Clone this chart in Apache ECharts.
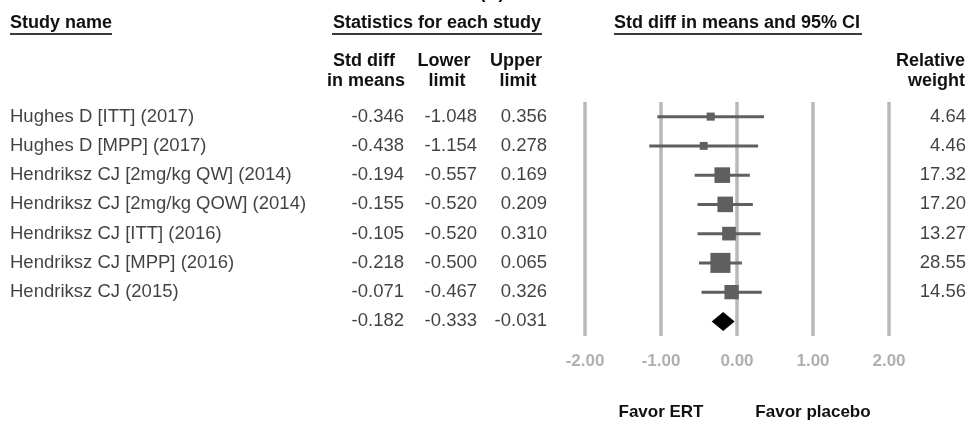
<!DOCTYPE html>
<html>
<head>
    <meta charset="UTF-8">
    <title>Forest plot</title>
    <script src="https://cdn.jsdelivr.net/npm/echarts@6/dist/echarts.min.js"></script>
    <style>
        body { margin: 0; background: #fff; }
        #forest { width: 975px; height: 421px; }
    </style>
</head>
<body>
    <div id="forest"></div>

    <script>
        var studies = [
            'Hughes D [ITT] (2017)',
            'Hughes D [MPP] (2017)',
            'Hendriksz CJ [2mg/kg QW] (2014)',
            'Hendriksz CJ [2mg/kg QOW] (2014)',
            'Hendriksz CJ [ITT] (2016)',
            'Hendriksz CJ [MPP] (2016)',
            'Hendriksz CJ (2015)'
        ];
        var stdDiff = [-0.346, -0.438, -0.194, -0.155, -0.105, -0.218, -0.071];
        var lowerLimit = [-1.048, -1.154, -0.557, -0.520, -0.520, -0.500, -0.467];
        var upperLimit = [0.356, 0.278, 0.169, 0.209, 0.310, 0.065, 0.326];
        var relWeight = [4.64, 4.46, 17.32, 17.20, 13.27, 28.55, 14.56];
        var pooled = [-0.182, -0.333, -0.031];   // effect, lower, upper
        var axisTicks = [-2, -1, 0, 1, 2];

        var font = "'Liberation Sans', Arial, sans-serif";
        var nRows = studies.length + 1;
        var gridTop = 102, gridHeight = 234;

        var chart = echarts.init(document.getElementById('forest'), null, {renderer: 'canvas'});

        // rows of the forest plot: [effect, lower, upper, weight, row]
        var forestRows = stdDiff.map(function (d, i) {
            return [d, lowerLimit[i], upperLimit[i], relWeight[i], i];
        });

        // text columns: [x position, row, text]
        function column(x, texts) {
            return texts.map(function (t, i) { return [x, i, t]; });
        }
        var nameCol = column(10, studies);
        var diffCol = column(404, stdDiff.concat([pooled[0]]).map(function (v) { return v.toFixed(3); }));
        var lowCol = column(477, lowerLimit.concat([pooled[1]]).map(function (v) { return v.toFixed(3); }));
        var upCol = column(547, upperLimit.concat([pooled[2]]).map(function (v) { return v.toFixed(3); }));
        var weightCol = column(966, relWeight.map(function (v) { return v.toFixed(2); }));

        function textSeries(data, side) {
            return {
                type: 'scatter', xAxisIndex: 1, yAxisIndex: 1,
                symbolSize: 0, silent: true, data: data,
                label: {
                    show: true, position: side, distance: 0,
                    color: '#111', fontFamily: font, fontSize: 18.5,
                    formatter: function (p) { return p.data[2]; }
                }
            };
        }

        function headText(text, x, y, align, extra) {
            return {
                type: 'text', x: x, y: y,
                style: Object.assign({
                    text: text, fill: '#111', font: 'bold 18px ' + font,
                    textAlign: align, textVerticalAlign: 'middle'
                }, extra || {})
            };
        }
        function underline(x1, x2, y) {
            return {
                type: 'line', shape: {x1: x1, y1: y, x2: x2, y2: y},
                style: {stroke: '#3a3a3a', lineWidth: 2}
            };
        }

        var option = {
            animation: false,
            backgroundColor: '#fff',
            grid: [
                {left: 585, right: 86, top: gridTop, height: gridHeight},
                {left: 0, right: 0, top: gridTop, height: gridHeight}
            ],
            xAxis: [
                {
                    type: 'value', gridIndex: 0,
                    min: axisTicks[0], max: axisTicks[axisTicks.length - 1], interval: 1,
                    axisLine: {show: false}, axisTick: {show: false},
                    splitLine: {show: true, lineStyle: {color: '#b8b8b8', width: 3.5}},
                    axisLabel: {
                        margin: 17, color: '#b0b0b0', fontFamily: font,
                        fontSize: 17, fontWeight: 'bold',
                        formatter: function (v) { return v.toFixed(2); }
                    }
                },
                {type: 'value', gridIndex: 1, min: 0, max: 975, show: false}
            ],
            yAxis: [
                {type: 'value', gridIndex: 0, min: -0.5, max: nRows - 0.5, inverse: true, show: false},
                {type: 'value', gridIndex: 1, min: -0.5, max: nRows - 0.5, inverse: true, show: false}
            ],
            graphic: [
                headText('(A)', 492, 2, 'center', {textVerticalAlign: 'bottom'}),
                headText('Study name', 10, 23, 'left'),
                underline(10, 112, 34),
                headText('Statistics for each study', 333, 23, 'left'),
                underline(332, 542, 34),
                headText('Std diff in means and 95% CI', 614, 23, 'left'),
                underline(614, 862, 34),
                headText('Std diff', 364, 61, 'center'),
                headText('in means', 366, 81, 'center'),
                headText('Lower', 444, 61, 'center'),
                headText('limit', 447, 81, 'center'),
                headText('Upper', 516, 61, 'center'),
                headText('limit', 518, 81, 'center'),
                headText('Relative', 965, 61, 'right'),
                headText('weight', 965, 81, 'right'),
                headText('Favor ERT', 661, 412, 'center', {font: 'bold 17px ' + font}),
                headText('Favor placebo', 813, 412, 'center', {font: 'bold 17px ' + font})
            ],
            series: [
                {
                    type: 'custom', xAxisIndex: 0, yAxisIndex: 0,
                    data: forestRows,
                    encode: {x: [0, 1, 2], y: 4},
                    renderItem: function (params, api) {
                        var row = api.value(4);
                        var lo = api.coord([api.value(1), row]);
                        var hi = api.coord([api.value(2), row]);
                        var mid = api.coord([api.value(0), row]);
                        var s = 3.75 * Math.sqrt(api.value(3));
                        return {
                            type: 'group',
                            children: [
                                {
                                    type: 'line',
                                    shape: {x1: lo[0], y1: lo[1], x2: hi[0], y2: hi[1]},
                                    style: {stroke: '#5f5f5f', lineWidth: 3}
                                },
                                {
                                    type: 'rect',
                                    shape: {x: mid[0] - s / 2, y: mid[1] - s / 2, width: s, height: s},
                                    style: {fill: '#5f5f5f'}
                                }
                            ]
                        };
                    }
                },
                {
                    type: 'custom', xAxisIndex: 0, yAxisIndex: 0,
                    data: [[pooled[0], pooled[1], pooled[2], studies.length]],
                    encode: {x: [0, 1, 2], y: 3},
                    renderItem: function (params, api) {
                        var row = api.value(3);
                        var lo = api.coord([api.value(1), row]);
                        var hi = api.coord([api.value(2), row]);
                        var mid = api.coord([api.value(0), row]);
                        return {
                            type: 'polygon',
                            shape: {points: [[lo[0], lo[1]], [mid[0], mid[1] - 9.5], [hi[0], hi[1]], [mid[0], mid[1] + 9.5]]},
                            style: {fill: '#000'}
                        };
                    }
                },
                textSeries(nameCol, 'right'),
                textSeries(diffCol, 'left'),
                textSeries(lowCol, 'left'),
                textSeries(upCol, 'left'),
                textSeries(weightCol, 'left')
            ]
        };

        chart.setOption(option);
    </script>
</body>
</html>
